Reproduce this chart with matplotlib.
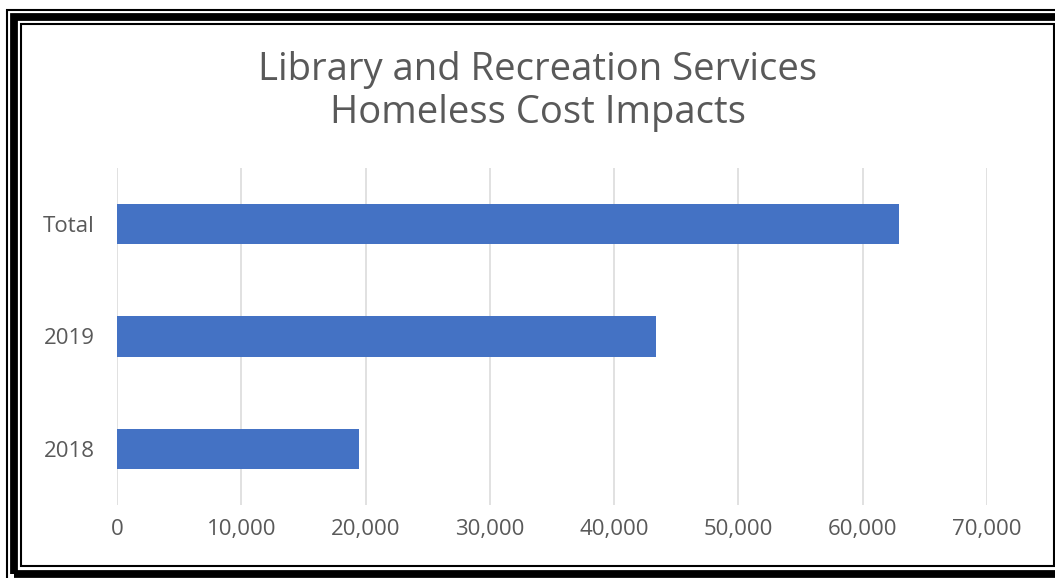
import matplotlib
matplotlib.use("Agg")
import matplotlib.pyplot as plt
from matplotlib.patches import Rectangle
from matplotlib.ticker import FuncFormatter

# Cost impacts by year
categories = ["2018", "2019", "Total"]
costs = [19500, 43400, 62900]
x_ticks = [0, 10000, 20000, 30000, 40000, 50000, 60000, 70000]

plt.rcParams["font.family"] = ["Open Sans", "DejaVu Sans"]
text_gray = "#595959"

W, H = 1055, 578
fig = plt.figure(figsize=(W / 100, H / 100), dpi=100)
ax = fig.add_axes([117 / W, (H - 505) / H, 870 / W, 337 / H])

ax.barh(categories, costs, height=0.36, color="#4472C4", zorder=3)
ax.set_xlim(0, 70000)
ax.set_ylim(-0.5, 2.5)
ax.set_xticks(x_ticks)
ax.xaxis.set_major_formatter(FuncFormatter(lambda v, p: f"{int(v):,}"))
ax.grid(axis="x", color="#D9D9D9", linewidth=1.1, zorder=0)
ax.tick_params(axis="both", length=0, labelsize=16, colors=text_gray)
ax.tick_params(axis="y", pad=16)
ax.tick_params(axis="x", pad=10)
for s in ax.spines.values():
    s.set_visible(False)

fig.text(537.5 / W, 1 - 70 / H, "Library and Recreation Services",
         ha="center", va="center", fontsize=27.5, color=text_gray)
fig.text(537.5 / W, 1 - 113 / H, "Homeless Cost Impacts",
         ha="center", va="center", fontsize=27.5, color=text_gray)

# double frame around the chart
def frame(x0, y0, x1, y1, lw):
    fig.add_artist(Rectangle((x0 / W, 1 - y1 / H), (x1 - x0) / W, (y1 - y0) / H,
                             transform=fig.transFigure, fill=False,
                             edgecolor="black", linewidth=lw, clip_on=False))

frame(7, 10, 1068, 590, 1.5)
frame(13.7, 17, 1061, 574, 5.6)
frame(20.5, 24, 1054, 566, 1.5)

fig.savefig("out.png", dpi=100)
